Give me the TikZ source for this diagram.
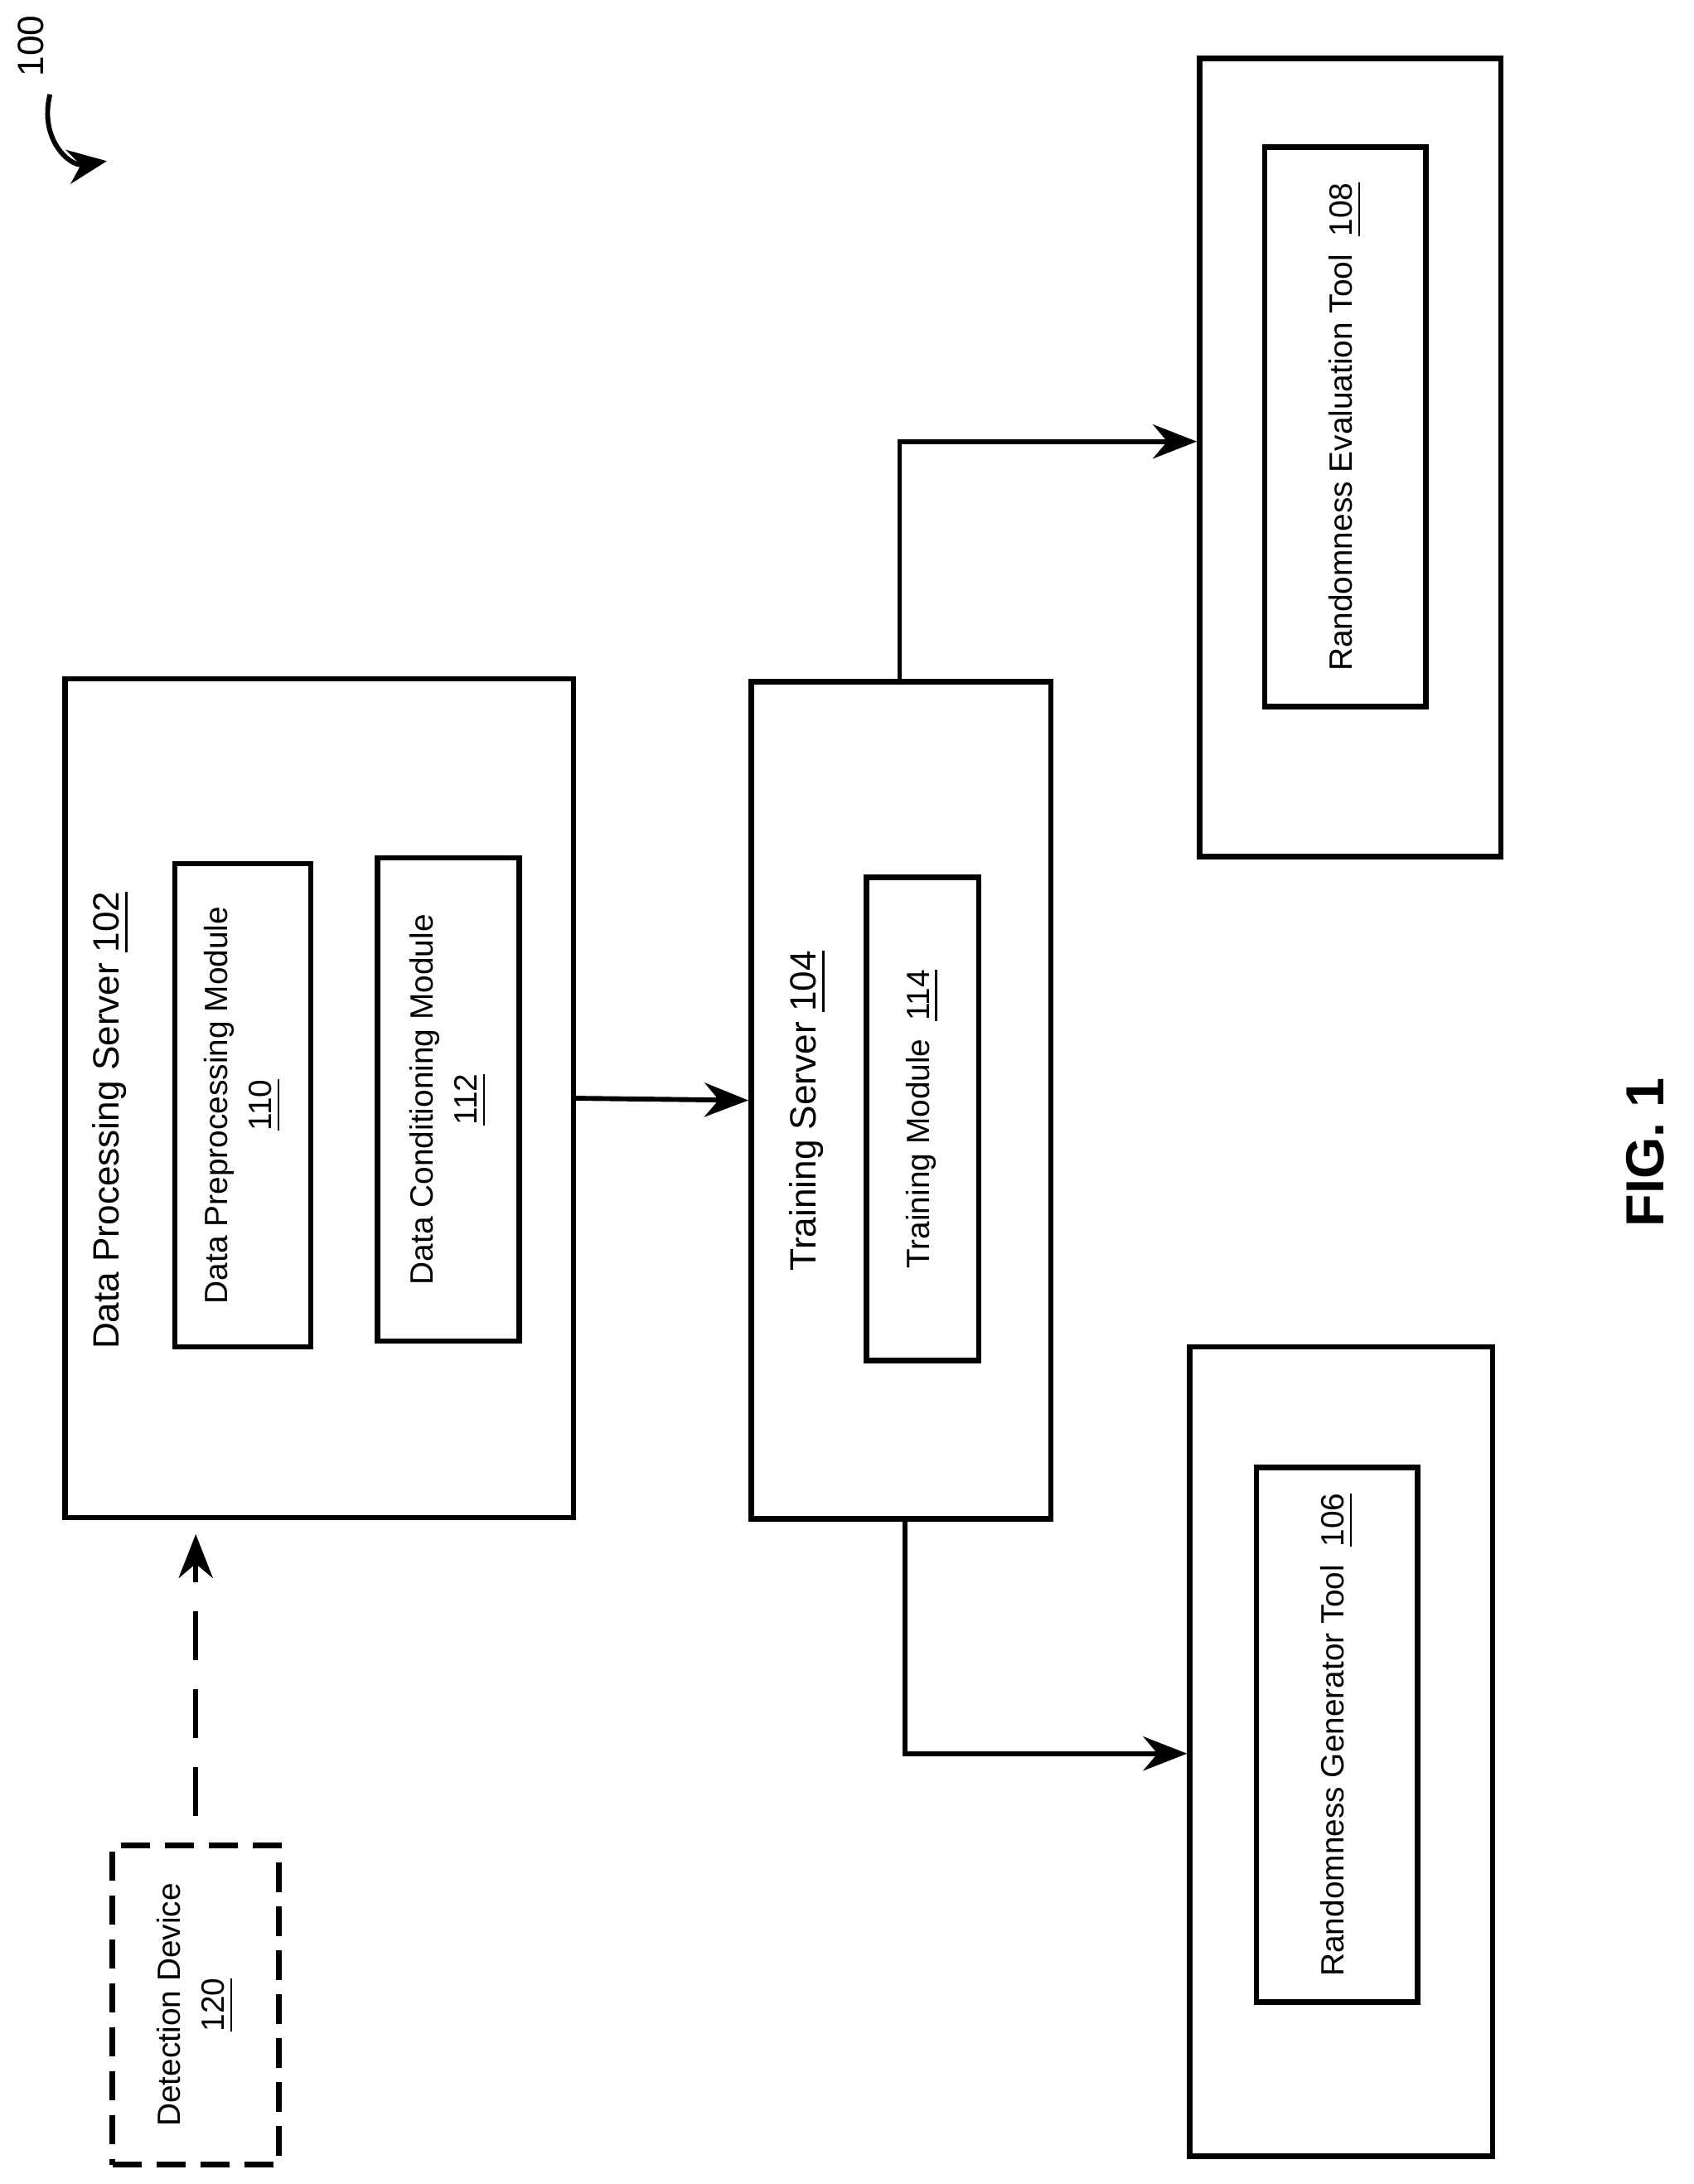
\documentclass[tikz,border=0pt]{standalone}
\usepackage{fontspec}
\setmainfont{Liberation Sans}
\usetikzlibrary{arrows.meta}
\tikzset{
  box/.style={draw, line width=1.1pt, inner sep=0pt},
  lbl/.style={rotate=90, align=center, font=\fontsize{7.5}{9}\selectfont},
  sublbl/.style={rotate=90, align=center, font=\fontsize{6.6}{9}\selectfont},
  flow/.style={line width=1pt, -{Stealth[length=9pt,width=7pt]}}
}
\begin{document}
\begin{tikzpicture}[>=stealth]
  \useasboundingbox (0,0) rectangle (12.2,-15.73);

  % servers
  \node[box, minimum width=3.66cm, minimum height=6.04cm] (dps) at (2.30,-7.91) {};
  \node[lbl] (dpsl) at (0.80,-8.07) {Data Processing Server \underline{102}};
  \node[box, minimum width=0.98cm, minimum height=3.48cm] (dpm) at (1.75,-7.96) {};
  \node[sublbl] (dpml) at (dpm) {Data Preprocessing Module\\\underline{110}};
  \node[box, minimum width=1.02cm, minimum height=3.48cm] (dcm) at (3.23,-7.92) {};
  \node[sublbl] (dcml) at (dcm) {Data Conditioning Module\\\underline{112}};

  \node[box, minimum width=2.16cm, minimum height=6.03cm] (ts) at (6.49,-7.925) {};
  \node[lbl] (tsl) at (5.82,-8.0) {Training Server \underline{104}};
  \node[box, minimum width=0.81cm, minimum height=3.48cm] (tm) at (6.645,-8.06) {};
  \node[sublbl] (tml) at (tm) {Training Module\ \ \underline{114}};

  % tools
  \node[box, minimum width=2.17cm, minimum height=5.75cm] (ret) at (9.725,-3.295) {};
  \node[box, minimum width=1.16cm, minimum height=4.03cm] (reti) at (9.69,-3.075) {};
  \node[sublbl] (retl) at (reti) {Randomness Evaluation Tool\ \ \underline{108}};
  \node[box, minimum width=2.18cm, minimum height=5.83cm] (rgt) at (9.66,-12.615) {};
  \node[box, minimum width=1.16cm, minimum height=3.85cm] (rgti) at (9.63,-12.495) {};
  \node[sublbl] (rgtl) at (rgti) {Randomness Generator Tool\ \ \underline{106}};

  % detection device
  \node[box, dashed, dash pattern=on 6pt off 3pt, minimum width=1.20cm, minimum height=2.30cm] (dd) at (1.41,-14.44) {};
  \node[sublbl] (ddl) at (dd) {Detection Device\\\underline{120}};

  % connectors
  \draw[flow] (dps.east) -- (ts.west);
  \draw[flow] (ts.north -| 6.48,0) |- (ret.west |- 0,-3.18);
  \draw[flow] (ts.south -| 6.52,0) |- (rgt.west |- 0,-12.63);
  \draw[flow, dashed, dash pattern=on 10pt off 6pt] ([yshift=1.9mm]dd.north) -- ([yshift=-1mm]dps.south -| dd.north);

  % figure labels
  \node[rotate=90, font=\fontsize{11}{12}\selectfont\bfseries] (fig) at (11.85,-8.3) {FIG. 1};
  \node[rotate=90, font=\fontsize{7.5}{9}\selectfont] (ref) at (0.22,-0.33) {100};
  \coordinate (refend) at (0.77,-1.16);
  \draw[line width=1pt, -{Stealth[length=8pt,width=7pt]}] (0.36,-0.68) .. controls (0.28,-1.0) and (0.5,-1.2) .. (refend);
\end{tikzpicture}
\end{document}
